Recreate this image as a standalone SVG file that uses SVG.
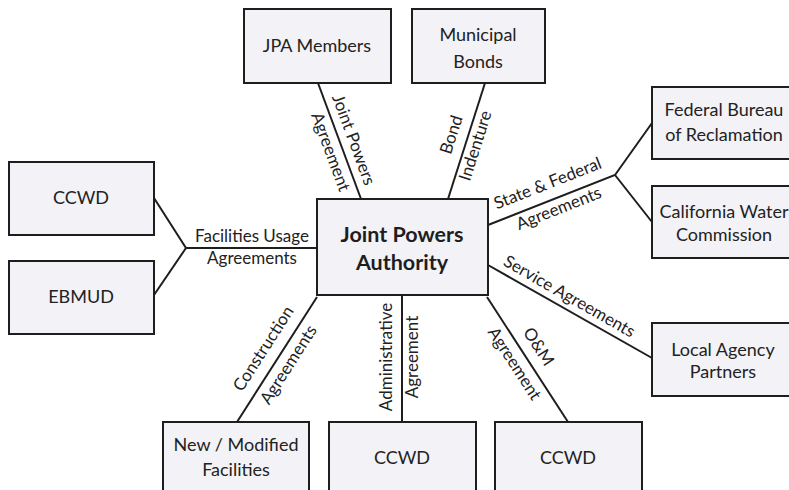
<svg xmlns="http://www.w3.org/2000/svg" width="789" height="490" viewBox="0 0 789 490">
<style>
.box{fill:#f3f2f6;stroke:#1e1e1e;stroke-width:2}
.nt{font-family:Lato,"Liberation Sans",sans-serif;font-size:18px;fill:#222;text-anchor:middle}
.bt{font-family:Lato,"Liberation Sans",sans-serif;font-size:21.5px;font-weight:bold;fill:#1e1e1e;text-anchor:middle}
.lb{font-family:Lato,"Liberation Sans",sans-serif;font-size:17px;fill:#222;text-anchor:middle}
.ln{stroke:#1e1e1e;stroke-width:2;fill:none}
</style>
<rect width="789" height="490" fill="#ffffff"/>
<g id="connectors">
<line class="ln" x1="318" y1="83" x2="361" y2="199"/>
<line class="ln" x1="485" y1="83" x2="448" y2="199"/>
<polyline class="ln" points="488,225 615,175 652,123"/>
<line class="ln" x1="615" y1="175" x2="652" y2="222"/>
<line class="ln" x1="488" y1="265" x2="652" y2="358"/>
<line class="ln" x1="487" y1="297" x2="568" y2="422"/>
<line class="ln" x1="402" y1="295" x2="402" y2="422"/>
<line class="ln" x1="317" y1="297" x2="237" y2="422"/>
<polyline class="ln" points="317,248 186,248 154,198"/>
<line class="ln" x1="186" y1="248" x2="154" y2="295"/>
<text class="lb" transform="translate(353,140) rotate(69.7)" y="5">Joint Powers</text>
<text class="lb" transform="translate(330,152) rotate(69.7)" y="5">Agreement</text>
<text class="lb" transform="translate(452,135) rotate(-72.3)" y="5">Bond</text>
<text class="lb" transform="translate(476,146) rotate(-72.3)" y="5">Indenture</text>
<text class="lb" transform="translate(548,184) rotate(-21.5)" y="5">State &amp; Federal</text>
<text class="lb" transform="translate(559,209) rotate(-21.5)" y="5">Agreements</text>
<text class="lb" x="252" y="242">Facilities Usage</text>
<text class="lb" x="252" y="264">Agreements</text>
<text class="lb" transform="translate(569,297) rotate(29.6)" y="5">Service Agreements</text>
<text class="lb" transform="translate(538,347) rotate(57)" y="5">O&amp;M</text>
<text class="lb" transform="translate(514,364) rotate(57)" y="5">Agreement</text>
<text class="lb" transform="translate(264,349) rotate(-57.4)" y="5">Construction</text>
<text class="lb" transform="translate(289,365) rotate(-57.4)" y="5">Agreements</text>
<text class="lb" transform="translate(387,357) rotate(-90)" y="5">Administrative</text>
<text class="lb" transform="translate(413,357) rotate(-90)" y="5">Agreement</text>
</g>
<g id="jpa-members"><rect class="box" x="244" y="9" width="147" height="74"/><text class="nt" x="317" y="52">JPA Members</text></g>
<g id="municipal-bonds"><rect class="box" x="412" y="9" width="133" height="74"/><text class="nt" x="478" y="41">Municipal</text><text class="nt" x="478" y="68">Bonds</text></g>
<g id="jpa"><rect class="box" x="317" y="199" width="171" height="96"/><text class="bt" x="402" y="242">Joint Powers</text><text class="bt" x="402" y="270">Authority</text></g>
<g id="federal-bureau"><rect class="box" x="652" y="87" width="160" height="72"/><text class="nt" x="724" y="116">Federal Bureau</text><text class="nt" x="724" y="141">of Reclamation</text></g>
<g id="california-water"><rect class="box" x="652" y="186" width="160" height="72"/><text class="nt" x="724" y="218">California Water</text><text class="nt" x="724" y="241">Commission</text></g>
<g id="local-agency"><rect class="box" x="652" y="323" width="160" height="73"/><text class="nt" x="723" y="356">Local Agency</text><text class="nt" x="723" y="378">Partners</text></g>
<g id="ccwd-left"><rect class="box" x="9" y="162" width="145" height="73"/><text class="nt" x="81" y="204">CCWD</text></g>
<g id="ebmud"><rect class="box" x="9" y="261" width="145" height="73"/><text class="nt" x="81" y="303">EBMUD</text></g>
<g id="new-facilities"><rect class="box" x="163" y="422" width="146" height="80"/><text class="nt" x="236" y="451">New / Modified</text><text class="nt" x="236" y="476">Facilities</text></g>
<g id="ccwd-middle"><rect class="box" x="329" y="422" width="147" height="80"/><text class="nt" x="402" y="464">CCWD</text></g>
<g id="ccwd-right"><rect class="box" x="495" y="422" width="147" height="80"/><text class="nt" x="568" y="464">CCWD</text></g>
</svg>
